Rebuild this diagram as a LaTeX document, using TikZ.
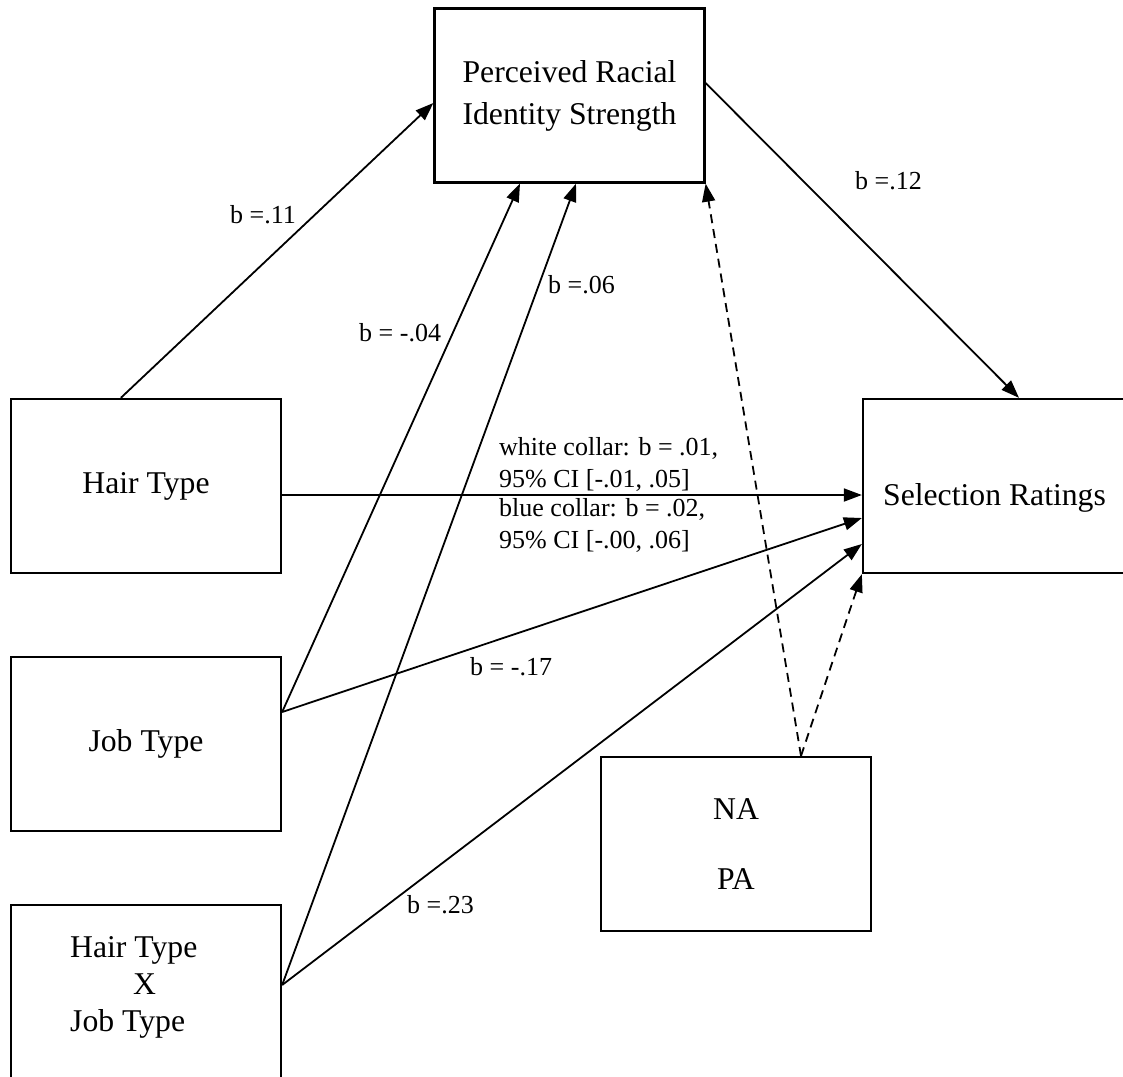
\documentclass[tikz,border=0pt]{standalone}
\usepackage{fontspec}
\setmainfont{Liberation Serif}
\usetikzlibrary{arrows.meta}

\begin{document}
\begin{tikzpicture}[x=1pt,y=-1pt,
  box/.style={draw, line width=2.3pt, minimum width=270pt, minimum height=174pt,
              inner sep=0pt, align=center, font=\fontsize{31.7}{42}\selectfont},
  link/.style={line width=1.8pt, -{Triangle[length=18pt,width=13pt]}},
  dlink/.style={link, dash pattern=on 9pt off 6pt},
  coef/.style={font=\fontsize{26}{32}\selectfont, inner sep=0pt, anchor=base west},
]
% page frame; boxes running past it are cut at the edge
\useasboundingbox (0,0) rectangle (1123,1076);
\clip (0,0) rectangle (1123,1076);

% variables
\node[box] (pris) at (569.5,95.5) {Perceived Racial\\Identity Strength};
\node[box, minimum width=263pt] (sel) at (994.5,486)
  {\raisebox{-12pt}[21.7pt][6.9pt]{Selection Ratings}};
\node[box] (hair) at (146,486) {Hair Type};
\node[box] (job) at (146,744) {Job Type};
\node[box] (inter) at (146,992) {};
\node[font=\fontsize{31.7}{37}\selectfont, align=left, anchor=north west, inner sep=0pt]
  (intertext) at (70,936.4) {Hair Type\\\hspace*{63pt}X\\Job Type};
\node[box] (napa) at (736,844) {NA\\[28pt]PA};

% paths
\draw[link] ([xshift=111pt]hair.north west) -- ([yshift=-7.5pt]pris.west);
\draw[link] ([yshift=-9pt]hair.east) -- ([yshift=-9pt]sel.west);
\draw[link] ([yshift=32pt]job.east) -- ([xshift=-49.5pt]pris.south);
\draw[link] ([yshift=32pt]job.east) -- ([yshift=-32pt]sel.west);
\draw[link] ([yshift=7pt]inter.east) -- ([xshift=6.5pt]pris.south);
\draw[link] ([yshift=7pt]inter.east) -- ([yshift=-58pt]sel.west);
\draw[link] ([yshift=12.5pt]pris.east) -- ([xshift=24.5pt]sel.north);
\draw[dlink] ([xshift=65pt]napa.north) -- (pris.south east);
\draw[dlink] ([xshift=65pt]napa.north) -- (sel.south west);

% coefficients
\node[coef] (b11) at (230,223) {b =.11};
\node[coef] (b04) at (359,341) {b = -.04};
\node[coef] (b06) at (548,293) {b =.06};
\node[coef] (b12) at (855,189) {b =.12};
\node[coef] (b17) at (470,675) {b = -.17};
\node[coef] (b23) at (407,913) {b =.23};
\node[coef, anchor=north west, align=left] (white) at (499,437.2)
  {white collar: b = .01,\\95\% CI [-.01, .05]};
\node[coef, anchor=north west, align=left] (blue) at (499,498.2)
  {blue collar: b = .02,\\95\% CI [-.00, .06]};
\end{tikzpicture}
\end{document}
